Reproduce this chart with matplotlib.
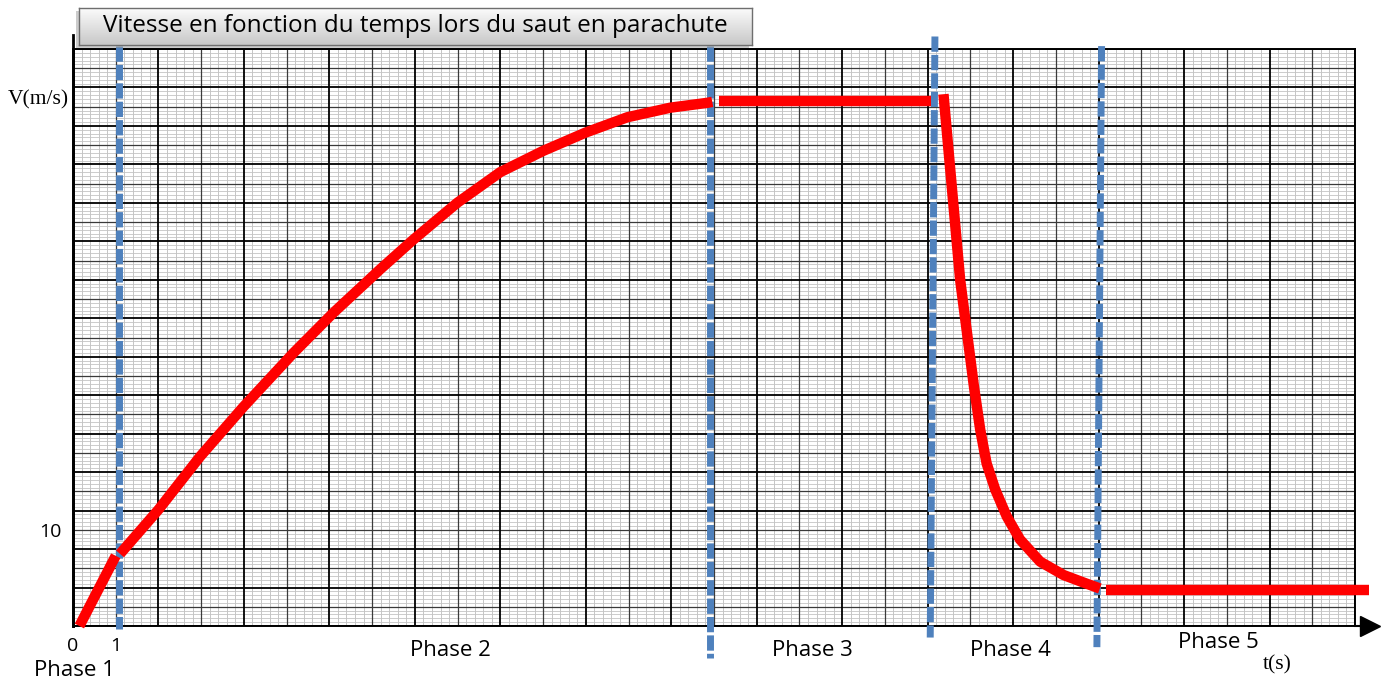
import numpy as np
import matplotlib.pyplot as plt
from matplotlib.colors import LinearSegmentedColormap
from matplotlib.patches import Rectangle

# speed curve, one piece per phase (t in s, v in m/s)
t_phase1 = [0.15, 1.0]
v_phase1 = [0.0, 7.3]
t_phase2 = [1.1, 2.0, 2.97, 3.99, 5.16, 6.1, 7.19, 7.97, 8.99, 10.0, 11.0, 11.99, 12.97, 13.98, 14.84, 14.96]
v_phase2 = [7.5, 12.1, 17.6, 22.8, 28.4, 32.6, 37.1, 40.2, 44.0, 47.2, 49.4, 51.3, 52.9, 53.9, 54.4, 54.5]
t_phase3 = [15.12, 20.07]
v_phase3 = [54.6, 54.6]
t_phase4 = [20.37, 20.76, 21.08, 21.23, 21.38, 21.58, 21.85, 22.16, 22.63, 23.18, 23.72, 24.03]
v_phase4 = [55.3, 36.0, 25.0, 20.4, 16.9, 14.2, 11.4, 9.0, 6.7, 5.3, 4.4, 3.9]
t_phase5 = [24.17, 30.33]
v_phase5 = [3.7, 3.7]

# dashed phase separators (top and bottom ends)
sep_t_top = [1.08, 14.91, 20.17, 24.07]
sep_t_bottom = [1.08, 14.91, 20.06, 23.96]
sep_v_top = [60.3, 60.3, 61.3, 60.3]
sep_v_bottom = [-0.3, -3.3, -1.2, -2.2]

phase_labels = ["Phase 1", "Phase 2", "Phase 3", "Phase 4", "Phase 5"]
phase_label_px = [(74, 670), (450, 651), (812, 651), (1010, 651), (1218, 642)]

W, H = 1384, 680
fig = plt.figure(figsize=(W / 100, H / 100), dpi=100)
ax = fig.add_axes([73 / W, 1 - 626 / H, 1282 / W, 577 / H])
ax.set_xlim(0, 30)
ax.set_ylim(0, 60)

# graph paper
for i, x in enumerate(np.arange(0, 30.001, 0.2)):
    if i % 10 == 0:
        ax.axvline(x, color="black", lw=1.3, zorder=3)
    elif i % 5 == 0:
        ax.axvline(x, color="#3a3a3a", lw=0.9, zorder=2)
    else:
        ax.axvline(x, color="#bdbdbd", lw=0.6, zorder=1)
for i, y in enumerate(np.arange(0, 60.001, 0.4)):
    if i % 10 == 0:
        ax.axhline(y, color="black", lw=1.3, zorder=3)
    elif i % 5 == 0:
        ax.axhline(y, color="#3a3a3a", lw=0.9, zorder=2)
    else:
        ax.axhline(y, color="#c4c4c4", lw=0.6, zorder=1)

for s in ax.spines.values():
    s.set_linewidth(1.4)
ax.spines["left"].set_linewidth(2)

# axis extensions and arrow
ax.plot([0, 0], [0, 61.5], color="black", lw=2, clip_on=False, zorder=4)
ax.plot([30, 30.5], [0, 0], color="black", lw=1.5, clip_on=False, zorder=4)
ax.plot(1.012, 0, ">", color="black", ms=15, transform=ax.get_yaxis_transform(),
        clip_on=False, zorder=4)

# separators
for tt, tb, vt, vb in zip(sep_t_top, sep_t_bottom, sep_v_top, sep_v_bottom):
    ax.plot([tt, tb], [vt, vb], color="#4f81bd", lw=5, dashes=(2.2, 0.45),
            solid_capstyle="butt", dash_capstyle="butt", clip_on=False, zorder=5)

# curve
red = dict(color="#ff0000", lw=7.5, solid_capstyle="butt", solid_joinstyle="round",
           clip_on=False, zorder=6)
ax.plot(t_phase1, v_phase1, **red)
ax.plot(t_phase2, v_phase2, **red)
ax.plot(t_phase3, v_phase3, **red)
ax.plot(t_phase4, v_phase4, **red)
ax.plot(t_phase5, v_phase5, **red)

font = "Open Sans"
ax.set_xticks([0, 1], ["0", "1"])
ax.set_yticks([10], ["10"])
ax.tick_params(length=0, labelsize=14, pad=8)
for lab in ax.get_xticklabels() + ax.get_yticklabels():
    lab.set_family(font)

for lab, (px, py) in zip(phase_labels, phase_label_px):
    fig.text(px / W, 1 - py / H, lab, ha="center", va="center", fontsize=16, family=font)

fig.text(8 / W, 1 - 100 / H, "V(m/s)", ha="left", va="center", fontsize=15.5,
         family="Liberation Serif")
fig.text(1277 / W, 1 - 665 / H, "t(s)", ha="center", va="center", fontsize=15.5,
         family="Liberation Serif")

# title box with gradient
bx0, by0, bx1, by1 = 79, 8, 752, 45
fig.patches.append(Rectangle(((bx0 - 3) / W, 1 - (by1 + 3) / H), (bx1 - bx0) / W,
                             (by1 - by0) / H, transform=fig.transFigure,
                             facecolor="#9a9a9a", alpha=0.5, edgecolor="none", zorder=8))
tax = fig.add_axes([bx0 / W, 1 - by1 / H, (bx1 - bx0) / W, (by1 - by0) / H], zorder=9)
grad = np.linspace(0, 1, 50).reshape(-1, 1)
tax.imshow(grad, cmap=LinearSegmentedColormap.from_list("g", ["#fbfbfb", "#c8c8c8"]),
           aspect="auto", extent=(0, 1, 0, 1), origin="upper")
tax.set_xticks([])
tax.set_yticks([])
for s in tax.spines.values():
    s.set_color("#6e6e6e")
    s.set_linewidth(1.0)
tax.text(0.5, 0.5, "Vitesse en fonction du temps lors du saut en parachute",
         ha="center", va="center", fontsize=17.5, family=font, transform=tax.transAxes)

fig.savefig("out.png", dpi=100)
